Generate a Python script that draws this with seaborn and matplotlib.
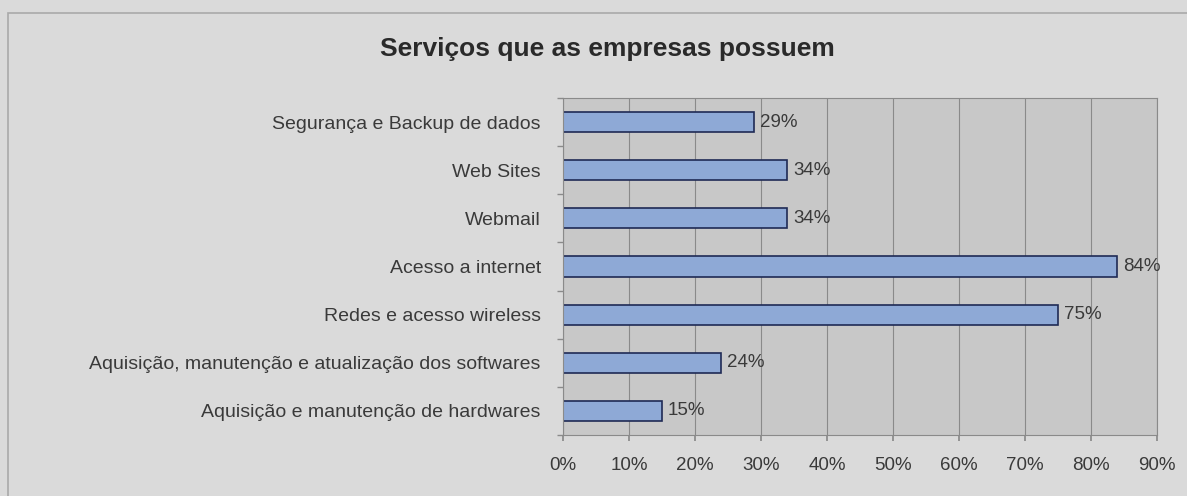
import matplotlib
matplotlib.use("Agg")
import matplotlib.pyplot as plt
import matplotlib.patches as mpatches
from matplotlib.ticker import FuncFormatter, FixedLocator
import seaborn as sns
import pandas as pd

# Service categories and share of companies that have each one (%)
servicos = [
    "Segurança e Backup de dados",
    "Web Sites",
    "Webmail",
    "Acesso a internet",
    "Redes e acesso wireless",
    "Aquisição, manutenção e atualização dos softwares",
    "Aquisição e manutenção de hardwares",
]
percentuais = [29, 34, 34, 84, 75, 24, 15]
ticks_x = [0, 10, 20, 30, 40, 50, 60, 70, 80, 90]

df = pd.DataFrame({"servico": servicos, "pct": percentuais})

sns.set_theme(style="white")
plt.rcParams["font.family"] = ["Liberation Sans", "DejaVu Sans"]

fig = plt.figure(figsize=(11.87, 4.96), dpi=100)
fig.patch.set_facecolor("#dadada")

# Outer chart frame
fig.patches.append(mpatches.Rectangle((8 / 1187, -0.01), 1.0, 1 - 13 / 496 + 0.01,
                                      transform=fig.transFigure, fill=False,
                                      edgecolor="#a9a9a9", linewidth=1.2))

ax = fig.add_axes([563 / 1187, 1 - 435 / 496, (1157 - 563) / 1187, (435 - 98) / 496])
ax.set_facecolor("#c8c8c8")

sns.barplot(data=df, x="pct", y="servico", orient="h", color="#8ea9d6",
            edgecolor="#1f2a55", linewidth=1.2, width=0.42, saturation=1, ax=ax)

ax.set_xlim(0, 90)
ax.set_xticks(ticks_x)
ax.xaxis.set_major_formatter(FuncFormatter(lambda v, _: f"{v:.0f}%"))
ax.grid(axis="x", color="#8a8a8a", linewidth=0.8)
ax.set_axisbelow(True)

# Tick marks between categories on the vertical axis
n = len(servicos)
ax.yaxis.set_minor_locator(FixedLocator([i - 0.5 for i in range(n + 1)]))

for s in ax.spines.values():
    s.set_color("#8a8a8a")
    s.set_linewidth(0.8)

ax.set_xlabel("")
ax.set_ylabel("")
ax.tick_params(axis="x", labelsize=13.5, colors="#3a3a3a", pad=12, length=4,
               direction="out", bottom=True, color="#8a8a8a")
ax.tick_params(axis="y", which="major", labelsize=14, colors="#3a3a3a", pad=16, length=0)
ax.tick_params(axis="y", which="minor", length=4, direction="out", left=True, color="#8a8a8a")

for cont in ax.containers:
    ax.bar_label(cont, labels=[f"{v:.0f}%" for v in cont.datavalues],
                 padding=4, fontsize=13.5, color="#3a3a3a")

fig.text(607 / 1187, 1 - 49 / 496, "Serviços que as empresas possuem",
         ha="center", va="center", fontsize=19, fontweight="bold", color="#2a2a2a")

fig.savefig("out.png", dpi=100, facecolor=fig.get_facecolor())
